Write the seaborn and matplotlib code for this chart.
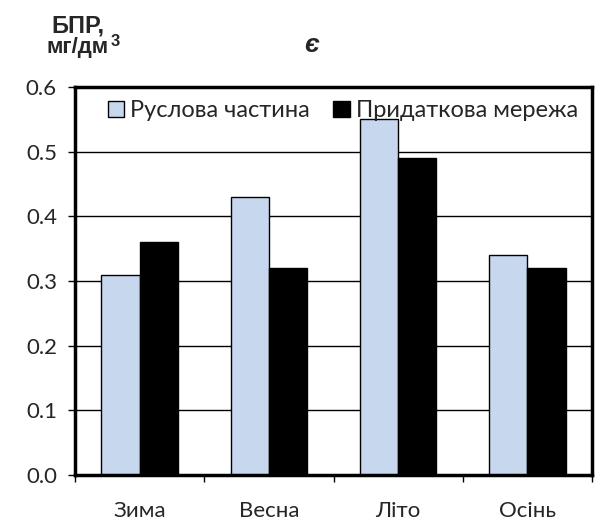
import matplotlib
matplotlib.use("Agg")
import matplotlib.pyplot as plt
import seaborn as sns
import pandas as pd

seasons = ["Зима", "Весна", "Літо", "Осінь"]
series = ["Руслова частина", "Придаткова мережа"]
channel = [0.31, 0.43, 0.55, 0.34]
network = [0.36, 0.32, 0.49, 0.32]
yticks = [0.0, 0.1, 0.2, 0.3, 0.4, 0.5, 0.6]

df = pd.DataFrame({
    "season": seasons * 2,
    "series": [series[0]] * 4 + [series[1]] * 4,
    "value": channel + network,
})

sns.set_theme(style="white")
plt.rcParams["font.family"] = ["Lato", "DejaVu Sans"]

fig = plt.figure(figsize=(6.08, 5.2), dpi=100)
ax = fig.add_axes([75 / 608, 1 - 475 / 520, (592 - 75) / 608, (475 - 87) / 520])

sns.barplot(data=df, x="season", y="value", hue="series", order=seasons,
            hue_order=series, palette=["#C6D7EE", "#000000"], width=0.59,
            edgecolor="black", linewidth=1.0, saturation=1, ax=ax)

ax.set_ylim(0, 0.6)
ax.set_xlim(-0.5, 3.5)
ax.set_yticks(yticks)
ax.set_yticklabels([f"{v:.1f}" for v in yticks], fontsize=16)
ax.yaxis.grid(True, color="black", linewidth=1.0)
ax.set_axisbelow(True)
ax.set_xlabel("")
ax.set_ylabel("")
ax.tick_params(axis="x", length=0, pad=19, labelsize=16)
ax.tick_params(axis="y", length=5, direction="out", left=True, color="black",
               width=1, pad=8)

# category-boundary ticks on the x axis
ax.set_xticks([-0.5, 0.5, 1.5, 2.5, 3.5], minor=True)
ax.tick_params(axis="x", which="minor", length=5, direction="out", bottom=True,
               color="black", width=1)

for side in ["left", "right", "top", "bottom"]:
    ax.spines[side].set_visible(True)
    ax.spines[side].set_color("black")
    ax.spines[side].set_linewidth(2.5)

ax.legend(loc="upper center", bbox_to_anchor=(0.518, 1.005), ncol=2, frameon=False,
          fontsize=17, handlelength=0.7, handleheight=0.7, handletextpad=0.25,
          columnspacing=1.0, borderaxespad=0.25)

bold_family = ["Liberation Sans", "DejaVu Sans"]
fig.text(0.084, 0.938, "БПР,", fontsize=17, fontweight="bold", ha="left",
         va="baseline", family=bold_family)
unit = fig.text(0.077, 0.898, "мг/дм", fontsize=16, fontweight="bold", ha="left",
                va="baseline", family=bold_family)

# superscript exponent placed right after the unit text
fig.canvas.draw()
bb = unit.get_window_extent()
fig.text((bb.x1 + 1.5) / fig.bbox.width, (bb.y0 + 0.42 * bb.height) / fig.bbox.height,
         "3", fontsize=12, fontweight="bold", ha="left", va="bottom",
         family=bold_family)
fig.text(0.513, 0.90, "є", fontsize=19, fontweight="bold", fontstyle="italic",
         ha="center", va="baseline", family=bold_family)

fig.savefig("out.png", dpi=100)
